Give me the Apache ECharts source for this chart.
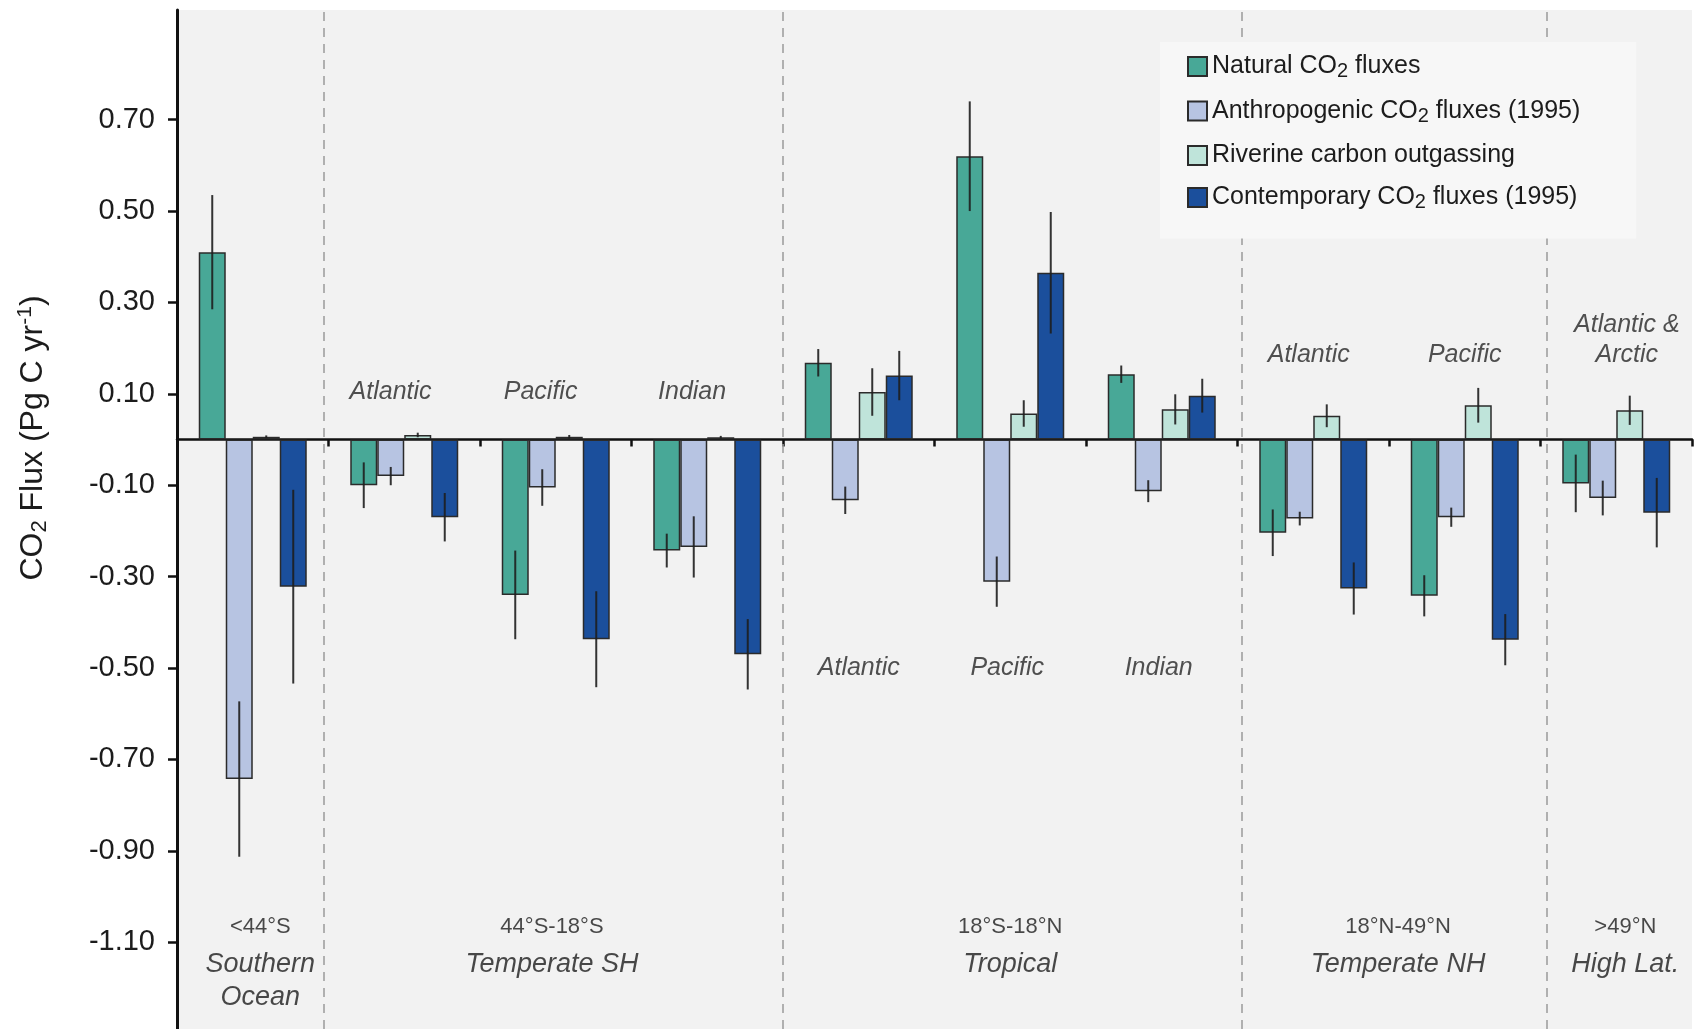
<!DOCTYPE html>
<html>
<head>
<meta charset="utf-8">
<title>Regional ocean CO2 fluxes</title>
<script src="https://cdn.jsdelivr.net/npm/echarts@6/dist/echarts.min.js"></script>
<style>
  html, body { margin: 0; padding: 0; background: #ffffff; }
  #chart { width: 1696px; height: 1029px; }
</style>
</head>
<body>
<div id="chart"></div>
<script>
// Ocean regions, west-to-east within each latitude zone
const categories = ['Southern Ocean', 'SH Atlantic', 'SH Pacific', 'SH Indian',
  'Tropical Atlantic', 'Tropical Pacific', 'Tropical Indian',
  'NH Atlantic', 'NH Pacific', 'High Lat. Atlantic & Arctic'];

const seriesNames = ['Natural CO2 fluxes', 'Anthropogenic CO2 fluxes (1995)',
  'Riverine carbon outgassing', 'Contemporary CO2 fluxes (1995)'];

// Fluxes in Pg C per year (positive = outgassing), with uncertainties
const natural         = [0.41, -0.10, -0.34, -0.243, 0.168, 0.62, 0.143, -0.204, -0.342, -0.096];
const naturalErr      = [0.125, 0.05, 0.097, 0.037, 0.03, 0.12, 0.019, 0.051, 0.045, 0.063];
const anthropogenic   = [-0.743, -0.08, -0.105, -0.235, -0.133, -0.311, -0.113, -0.173, -0.17, -0.128];
const anthropogenicErr= [0.17, 0.02, 0.04, 0.067, 0.03, 0.055, 0.024, 0.015, 0.021, 0.038];
const riverine        = [0.006, 0.01, 0.006, 0.005, 0.104, 0.057, 0.066, 0.052, 0.075, 0.064];
const riverineErr     = [0.003, 0.005, 0.004, 0.003, 0.052, 0.029, 0.033, 0.025, 0.038, 0.032];
const contemporary    = [-0.322, -0.17, -0.437, -0.47, 0.14, 0.365, 0.096, -0.326, -0.438, -0.16];
const contemporaryErr = [0.212, 0.053, 0.105, 0.077, 0.054, 0.133, 0.037, 0.057, 0.056, 0.076];

const yTickValues = [0.7, 0.5, 0.3, 0.1, -0.1, -0.3, -0.5, -0.7, -0.9, -1.1];

// Latitude zones along the bottom
const zoneLat  = ['<44°S', '44°S-18°S', '18°S-18°N', '18°N-49°N', '>49°N'];
const zoneName = ['Southern\nOcean', 'Temperate SH', 'Tropical', 'Temperate NH', 'High Lat.'];

// Basin names written next to the bar groups
const basinName = ['Atlantic', 'Pacific', 'Indian', 'Atlantic', 'Pacific', 'Indian',
  'Atlantic', 'Pacific', 'Atlantic &\nArctic'];

// ---- layout (in axis units of the helper 0..10 axis and flux units) ----
const zoneX = [0.55, 2.475, 5.5, 8.06, 9.56];
const zoneLatY = -1.067;
const zoneNameTop = -1.113;
const basinX = [1.41, 2.40, 3.40, 4.50, 5.48, 6.48, 7.47, 8.50, 9.57];
const basinY = [0.105, 0.105, 0.105, -0.501, -0.501, -0.501, 0.185, 0.185, 0.218];
const separatorX = [0.97, 4.0, 7.03, 9.04];

const FONT = "'Liberation Sans', Arial, Helvetica, sans-serif";
const TEXT = '#1c1c1c';
const BAR_W = 27;
const colors = ['#48a897', '#b7c4e2', '#bfe4da', '#1b4f9c'];
const values = [natural, anthropogenic, riverine, contemporary];
const errors = [naturalErr, anthropogenicErr, riverineErr, contemporaryErr];

// "CO2" written with a subscript 2
function richCO2(name) {
  return '{t|' + name.split('CO2').join('CO}{s|2}{t|') + '}';
}

const barSeries = seriesNames.map((name, i) => ({
  name,
  type: 'bar',
  xAxisIndex: 0,
  yAxisIndex: 0,
  barWidth: BAR_W,
  barGap: '0%',
  itemStyle: { color: colors[i], borderColor: '#2b2b2b', borderWidth: 1.5 },
  data: values[i],
  z: 2
}));

const errorSeries = seriesNames.map((name, i) => ({
  type: 'custom',
  xAxisIndex: 0,
  yAxisIndex: 0,
  silent: true,
  z: 5,
  data: values[i].map((v, c) => [c, v, errors[i][c]]),
  renderItem(params, api) {
    const c = api.value(0), v = api.value(1), e = api.value(2);
    const hi = api.coord([c, v + e]);
    const lo = api.coord([c, v - e]);
    const x = hi[0] + (i - 1.5) * BAR_W;
    return {
      type: 'line',
      shape: { x1: x, y1: hi[1], x2: x, y2: lo[1] },
      style: { stroke: '#1e1e1e', lineWidth: 2, opacity: 0.9 }
    };
  }
}));

const option = {
  animation: false,
  backgroundColor: '#ffffff',
  grid: {
    left: 177, right: 4, top: 10, bottom: 0,
    show: true, backgroundColor: '#f2f2f2', borderWidth: 0
  },
  legend: {
    orient: 'vertical',
    left: 1160, top: 42,
    z: 20,
    padding: [12, 56, 26, 27],
    backgroundColor: '#f7f7f7',
    itemWidth: 19, itemHeight: 19,
    itemGap: 17,
    icon: 'rect',
    data: seriesNames,
    formatter: richCO2,
    textStyle: {
      color: TEXT, fontFamily: FONT, fontSize: 25,
      rich: {
        t: { fontFamily: FONT, fontSize: 25, lineHeight: 30, color: TEXT },
        s: { fontFamily: FONT, fontSize: 20, color: TEXT, verticalAlign: 'bottom', padding: [6, 0, 0, 0] }
      }
    }
  },
  xAxis: [{
    type: 'category',
    data: categories,
    axisLine: { onZero: true, lineStyle: { color: '#111', width: 2.5 } },
    axisTick: { show: true, interval: 0, length: 7, lineStyle: { color: '#111', width: 2.5 } },
    axisLabel: { show: false },
    splitLine: { show: false }
  }, {
    type: 'value',
    min: 0, max: 10,
    show: false
  }],
  yAxis: {
    type: 'value',
    min: -1.29, max: 0.94,
    axisLine: { show: true, onZero: false, lineStyle: { color: '#111', width: 3 } },
    axisTick: { show: true, length: 9, customValues: yTickValues, lineStyle: { color: '#111', width: 2.5 } },
    axisLabel: {
      customValues: yTickValues,
      margin: 22,
      fontFamily: FONT, fontSize: 29, color: TEXT,
      formatter: v => v.toFixed(2)
    },
    splitLine: { show: false }
  },
  graphic: [{
    type: 'text',
    x: 33, y: 438,
    rotation: Math.PI / 2,
    style: {
      text: '{a|CO}{b|2}{a| Flux (Pg C yr}{c|-1}{a|)}',
      align: 'center',
      verticalAlign: 'middle',
      fill: TEXT,
      rich: {
        a: { fontFamily: FONT, fontSize: 32, lineHeight: 36, fill: TEXT, color: TEXT },
        b: { fontFamily: FONT, fontSize: 22, verticalAlign: 'bottom', fill: TEXT, color: TEXT },
        c: { fontFamily: FONT, fontSize: 21, verticalAlign: 'top', fill: TEXT, color: TEXT }
      }
    }
  }],
  series: [
    ...barSeries,
    ...errorSeries,
    {
      // zone separators, drawn beneath the bars and the legend box
      type: 'line',
      xAxisIndex: 1,
      yAxisIndex: 0,
      data: [],
      silent: true,
      z: 1,
      markLine: {
        silent: true,
        symbol: 'none',
        z: 1,
        label: { show: false },
        lineStyle: { type: [9, 7], color: '#9a9a9a', width: 1.5 },
        data: separatorX.map(x => ({ xAxis: x }))
      }
    },
    {
      // latitude range of each zone
      type: 'scatter',
      xAxisIndex: 1,
      yAxisIndex: 0,
      symbolSize: 0,
      silent: true,
      data: zoneLat.map((t, i) => ({ value: [zoneX[i], zoneLatY], name: t })),
      label: {
        show: true, position: 'inside', formatter: '{b}',
        fontFamily: FONT, fontSize: 22, color: TEXT
      }
    },
    {
      // zone names
      type: 'scatter',
      xAxisIndex: 1,
      yAxisIndex: 0,
      symbolSize: 0,
      silent: true,
      data: zoneName.map((t, i) => ({ value: [zoneX[i], zoneNameTop], name: t })),
      label: {
        show: true, position: 'inside', formatter: '{b}',
        verticalAlign: 'top', lineHeight: 33,
        fontFamily: FONT, fontSize: 27, fontStyle: 'italic', color: TEXT
      }
    },
    {
      // basin names
      type: 'scatter',
      xAxisIndex: 1,
      yAxisIndex: 0,
      symbolSize: 0,
      silent: true,
      data: basinName.map((t, i) => ({ value: [basinX[i], basinY[i]], name: t })),
      label: {
        show: true, position: 'inside', formatter: '{b}',
        lineHeight: 30,
        fontFamily: FONT, fontSize: 25, fontStyle: 'italic', color: '#262626'
      }
    }
  ]
};

const chart = echarts.init(document.getElementById('chart'), null, { renderer: 'canvas' });
chart.setOption(option);
</script>
</body>
</html>
